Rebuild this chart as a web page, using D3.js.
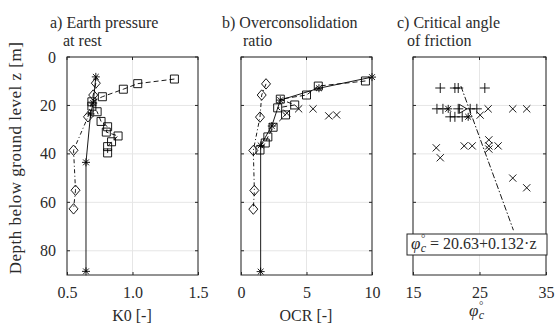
<!DOCTYPE html>
<html>
<head>
<meta charset="utf-8">
<script src="https://cdn.jsdelivr.net/npm/d3@7"></script>
<style>
  body { margin: 0; background: #fff; }
  svg text { font-family: "Liberation Serif", "Times New Roman", serif; fill: #2b2b2b; }
</style>
</head>
<body>
<div id="chart"></div>
<script>
// depth axis
var depthTicks = [0, 20, 40, 60, 80];

// a) K0
var k0Ticks = [0.5, 1.0, 1.5];
var k0SqZ   = [9.1, 11.0, 13.3, 16.4, 18.5, 20.3, 22.6, 26.6, 28.8, 31.0, 32.6, 35.0, 37.0, 39.6];
var k0SqVal = [1.32, 1.04, 0.93, 0.77, 0.69, 0.69, 0.73, 0.76, 0.81, 0.80, 0.89, 0.84, 0.81, 0.81];
var k0DiaZ   = [10.8, 15.7, 24.7, 38.5, 55.0, 62.7];
var k0DiaVal = [0.72, 0.70, 0.66, 0.55, 0.565, 0.55];
var k0StarZ   = [8.2, 19.0, 23.5, 43.5, 88.5];
var k0StarVal = [0.72, 0.70, 0.68, 0.645, 0.645];

// b) OCR
var ocrTicks = [0, 5, 10];
var ocrSqZ   = [9.9, 12.0, 15.7, 17.4, 19.8, 21.0, 23.9, 29.0, 33.0, 35.5, 38.4];
var ocrSqVal = [9.5, 5.9, 5.0, 3.0, 4.1, 2.8, 3.4, 2.45, 2.05, 1.85, 1.45];
var ocrDiaZ   = [11.1, 15.7, 24.8, 38.6, 55.1, 62.8];
var ocrDiaVal = [1.91, 1.58, 1.45, 0.94, 1.02, 0.94];
var ocrStarZ   = [8.3, 12.9, 17.8, 28.5, 36.5, 88.6];
var ocrStarVal = [10.0, 5.95, 3.0, 2.35, 1.5, 1.5];
var ocrCrossZ   = [21.4, 21.4, 24.3, 23.9, 23.2];
var ocrCrossVal = [4.4, 5.5, 6.7, 7.3, 3.5];

// c) critical friction angle
var phiTicks = [15, 25, 35];
var phiPlusZ   = [12.8, 12.8, 12.8, 12.8, 21.4, 21.4, 21.4, 21.4, 21.4, 24.7, 24.7, 24.7];
var phiPlusVal = [19.1, 21.3, 21.8, 25.8, 18.6, 19.5, 21.8, 23.6, 24.6, 20.6, 21.3, 22.4];
var phiStarZ   = [21.4, 24.7];
var phiStarVal = [20.3, 23.3];
var phiTriZ   = [21.4];
var phiTriVal = [22.5];
var phiCrossZ   = [21.4, 21.4, 21.4, 24.0, 37.5, 41.6, 36.7, 36.7, 34.2, 36.7, 38.0, 36.7, 50.0, 54.0];
var phiCrossVal = [26.3, 30.0, 32.1, 25.1, 18.5, 19.1, 22.7, 23.9, 26.4, 26.4, 26.4, 27.8, 30.0, 32.1];
var phiFitZ   = [12.0, 71.5];
var phiFitVal = [22.2, 30.1];
var phiFitLabel = ' = 20.63+0.132\u00b7z';

var W = 555, H = 327;
var top0 = 57, bot0 = 275;
var FONT = '"Liberation Serif", "Times New Roman", serif';

var svg = d3.select('#chart').append('svg')
	.attr('width', W)
	.attr('height', H)
	.attr('font-family', FONT);

var y = d3.scaleLinear().domain([0, 90]).range([top0, bot0]);

function zip(xs, zs) {
	return xs.map(function (v, i) { return [v, zs[i]]; });
}

function markerPath(type) {
	switch (type) {
		case 'square': return 'M-4,-4H4V4H-4Z';
		case 'diamond': return 'M0,-5.2L4.5,0L0,5.2L-4.5,0Z';
		case 'plus': return 'M-5,0H5M0,-5V5';
		case 'cross': return 'M-3.6,-3.6L3.6,3.6M-3.6,3.6L3.6,-3.6';
		case 'star': return 'M-4,0H4M0,-4V4M-2.9,-2.9L2.9,2.9M-2.9,2.9L2.9,-2.9';
		case 'tri': return 'M-3.5,-4.5L4,0L-3.5,4.5Z';
	}
}

function mkPanel(opt) {
	var x = d3.scaleLinear().domain(opt.domain).range(opt.range);
	var g = svg.append('g');

	g.append('rect')
		.attr('x', opt.range[0]).attr('y', top0)
		.attr('width', opt.range[1] - opt.range[0]).attr('height', bot0 - top0)
		.attr('fill', '#fff');

	// grid
	g.selectAll('.vgrid').data(opt.ticks).enter().append('line')
		.attr('x1', function (d) { return x(d); }).attr('x2', function (d) { return x(d); })
		.attr('y1', top0).attr('y2', bot0)
		.attr('stroke', '#e6e6e6').attr('stroke-width', 1);
	g.selectAll('.hgrid').data(depthTicks).enter().append('line')
		.attr('x1', opt.range[0]).attr('x2', opt.range[1])
		.attr('y1', function (d) { return y(d); }).attr('y2', function (d) { return y(d); })
		.attr('stroke', '#e6e6e6').attr('stroke-width', 1);

	var line = d3.line()
		.x(function (d) { return x(d[0]); })
		.y(function (d) { return y(d[1]); });

	opt.series.forEach(function (s) {
		var pts = zip(s.val, s.z);
		if (s.dash !== undefined) {
			g.append('path')
				.attr('d', line(pts))
				.attr('fill', 'none')
				.attr('stroke', '#000')
				.attr('stroke-width', 0.9)
				.attr('stroke-dasharray', s.dash);
		}
		if (s.marker) {
			g.selectAll(null).data(pts).enter().append('path')
				.attr('transform', function (d) { return 'translate(' + x(d[0]) + ',' + y(d[1]) + ')'; })
				.attr('d', markerPath(s.marker))
				.attr('fill', 'none')
				.attr('stroke', '#000')
				.attr('stroke-width', 0.9);
		}
	});

	// box + ticks
	g.append('rect')
		.attr('x', opt.range[0]).attr('y', top0)
		.attr('width', opt.range[1] - opt.range[0]).attr('height', bot0 - top0)
		.attr('fill', 'none').attr('stroke', '#262626').attr('stroke-width', 1);

	var xa = g.append('g')
		.attr('transform', 'translate(0,' + bot0 + ')')
		.call(d3.axisBottom(x).tickValues(opt.ticks).tickFormat(opt.fmt)
			.tickSizeInner(-3).tickSizeOuter(0).tickPadding(12));
	xa.attr('font-family', FONT).attr('font-size', 16);
	xa.select('.domain').remove();
	xa.selectAll('line').attr('stroke', '#262626');
	xa.selectAll('text').attr('fill', '#2b2b2b');

	g.selectAll('.ttick').data(opt.ticks).enter().append('line')
		.attr('x1', function (d) { return x(d); }).attr('x2', function (d) { return x(d); })
		.attr('y1', top0).attr('y2', top0 + 3)
		.attr('stroke', '#262626');
	g.selectAll('.ltick').data(depthTicks).enter().append('line')
		.attr('x1', opt.range[0]).attr('x2', opt.range[0] + 3)
		.attr('y1', function (d) { return y(d); }).attr('y2', function (d) { return y(d); })
		.attr('stroke', '#262626');
	g.selectAll('.rtick').data(depthTicks).enter().append('line')
		.attr('x1', opt.range[1] - 3).attr('x2', opt.range[1])
		.attr('y1', function (d) { return y(d); }).attr('y2', function (d) { return y(d); })
		.attr('stroke', '#262626');

	// titles
	g.append('text').attr('x', opt.title[0][1]).attr('y', 28).attr('font-size', 16).text(opt.title[0][0]);
	g.append('text').attr('x', opt.title[1][1]).attr('y', 46).attr('font-size', 16).text(opt.title[1][0]);

	return {g: g, x: x};
}

var pa = mkPanel({
	domain: [0.5, 1.5], range: [67, 198], ticks: k0Ticks, fmt: d3.format('.1f'),
	title: [['a) Earth pressure', 50], ['at rest', 63]],
	series: [
		{val: k0SqVal, z: k0SqZ, marker: 'square', dash: '5,3'},
		{val: k0DiaVal, z: k0DiaZ, marker: 'diamond', dash: '4,2.5,1,2.5'},
		{val: k0StarVal, z: k0StarZ, marker: 'star', dash: 'none'}
	]
});

var pb = mkPanel({
	domain: [0, 10], range: [241, 372], ticks: ocrTicks, fmt: d3.format('d'),
	title: [['b) Overconsolidation', 222], ['ratio', 243]],
	series: [
		{val: ocrSqVal, z: ocrSqZ, marker: 'square', dash: '5,3'},
		{val: ocrDiaVal, z: ocrDiaZ, marker: 'diamond', dash: '4,2.5,1,2.5'},
		{val: ocrStarVal, z: ocrStarZ, marker: 'star', dash: 'none'},
		{val: ocrCrossVal, z: ocrCrossZ, marker: 'cross'}
	]
});

var pc = mkPanel({
	domain: [15, 35], range: [413, 546], ticks: phiTicks, fmt: d3.format('d'),
	title: [['c) Critical angle', 397], ['of friction', 407]],
	series: [
		{val: phiFitVal, z: phiFitZ, dash: '6,2,1.5,2'},
		{val: phiPlusVal, z: phiPlusZ, marker: 'plus'},
		{val: phiStarVal, z: phiStarZ, marker: 'star'},
		{val: phiTriVal, z: phiTriZ, marker: 'tri'},
		{val: phiCrossVal, z: phiCrossZ, marker: 'cross'}
	]
});

// depth ticks (left panel only)
svg.selectAll('.ylab').data(depthTicks).enter().append('text')
	.attr('x', 56)
	.attr('y', function (d) { return y(d); })
	.attr('dy', '0.35em')
	.attr('text-anchor', 'end')
	.attr('font-size', 16)
	.text(function (d) { return d; });

svg.append('text')
	.attr('transform', 'translate(21,158) rotate(-90)')
	.attr('text-anchor', 'middle')
	.attr('font-size', 17)
	.attr('letter-spacing', 0.5)
	.text('Depth below ground level z [m]');

svg.append('text').attr('x', 132).attr('y', 321).attr('text-anchor', 'middle')
	.attr('font-size', 16).text('K0 [-]');
svg.append('text').attr('x', 306).attr('y', 321).attr('text-anchor', 'middle')
	.attr('font-size', 16).text('OCR [-]');

// phi_c with degree on top and c below, one text element
function phiText(x0, yb, rest) {
	var t = svg.append('text').attr('x', x0).attr('y', yb).attr('font-size', 17);
	t.append('tspan').attr('font-style', 'italic').text('\u03c6');
	t.append('tspan').attr('font-size', 11).attr('dy', -7).attr('dx', 0.5).text('\u00b0');
	t.append('tspan').attr('font-size', 12).attr('font-style', 'italic')
		.attr('dy', 10).attr('dx', -4.6).text('c');
	if (rest) {
		t.append('tspan').attr('font-size', 16).attr('dy', -3).text(rest);
	}
	return t;
}

phiText(469, 316);

// fit label box
svg.append('rect')
	.attr('x', 407).attr('y', 234).attr('width', 140).attr('height', 21)
	.attr('fill', '#fff').attr('stroke', '#262626').attr('stroke-width', 1);
phiText(411, 249, phiFitLabel);
</script>
</body>
</html>
